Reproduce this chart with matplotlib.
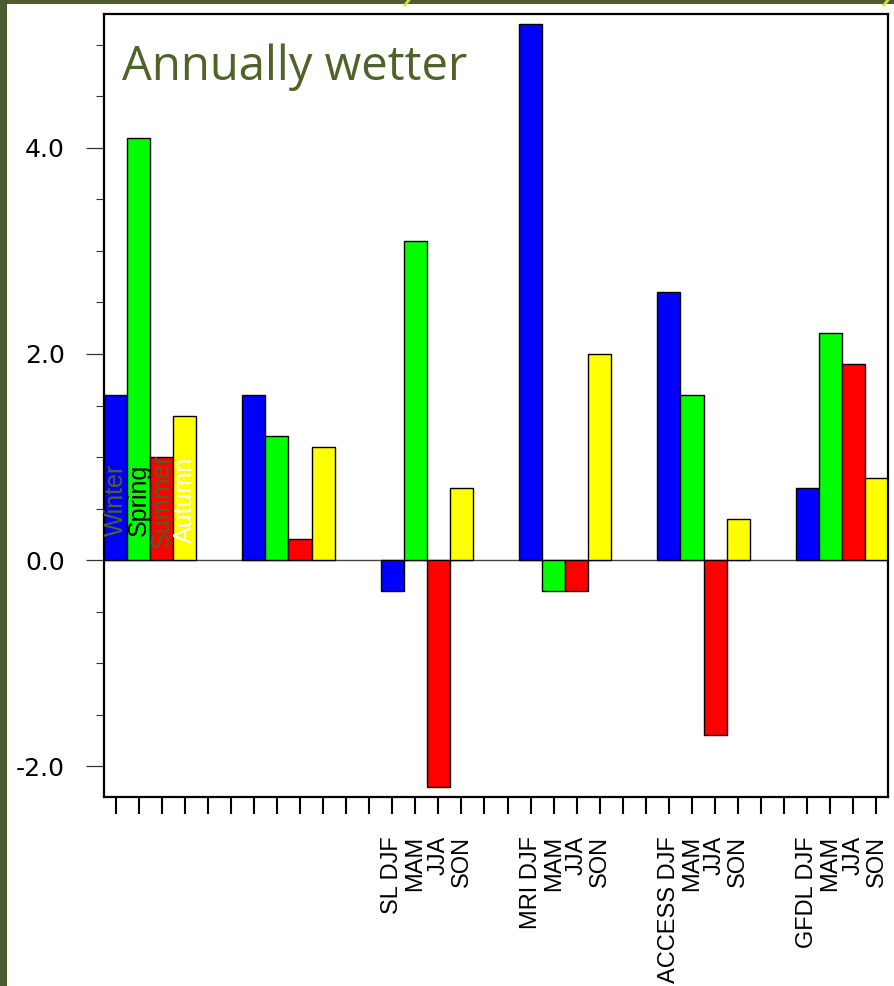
import matplotlib
matplotlib.use("Agg")
import matplotlib.pyplot as plt
from matplotlib.patches import Rectangle
from matplotlib.lines import Line2D
from matplotlib.ticker import MultipleLocator
import numpy as np

# Seasonal rainfall changes for each model group
models = ["", "", "SL", "MRI", "ACCESS", "GFDL"]
seasons = ["DJF", "MAM", "JJA", "SON"]
season_names = ["Winter", "Spring", "Summer", "Autumn"]
winter = [1.6, 1.6, -0.3, 5.2, 2.6, 0.7]
spring = [4.1, 1.2, 3.1, -0.3, 1.6, 2.2]
summer = [1.0, 0.2, -2.2, -0.3, -1.7, 1.9]
autumn = [1.4, 1.1, 0.7, 2.0, 0.4, 0.8]
y_ticks = [-2.0, 0.0, 2.0, 4.0]

colors = ["#0000FF", "#00FF00", "#FF0000", "#FFFF00"]
name_colors = ["#4F6228", "#000000", "#4F6228", "#FFFFFF"]
olive = "#4F6228"

W, H = 894, 986
fig = plt.figure(figsize=(W / 100, H / 100), dpi=100, facecolor="white")

# Olive frame strips along the left and top edges
fig.patches.append(Rectangle((0, 0), 7 / W, 1, transform=fig.transFigure,
                             facecolor="#4E5B31", edgecolor="none", zorder=0))
fig.patches.append(Rectangle((0, 1 - 4 / H), 1, 4 / H, transform=fig.transFigure,
                             facecolor="#4E5B31", edgecolor="none", zorder=0))
for x0 in (405, 884):
    fig.lines.append(Line2D([x0 / W, (x0 + 4) / W], [1 - 5 / H, 1.0],
                            transform=fig.transFigure, color="#C8E63C", lw=2))

ax = fig.add_axes([104 / W, 1 - 797 / H, 784 / W, 783 / H])

series = [winter, spring, summer, autumn]
n_groups = len(models)
step = 6
positions, labels = [], []
for g in range(n_groups):
    base = g * step
    for s in range(4):
        pos = base + s
        ax.bar(pos, series[s][g], width=1.0, color=colors[s],
               edgecolor="black", linewidth=1.0, zorder=2)
    for s in range(4):
        positions.append(base + s)
        if models[g]:
            labels.append(f"{models[g]} {seasons[s]}" if s == 0 else seasons[s])
        else:
            labels.append("")
    if g < n_groups - 1:
        positions += [base + 4, base + 5]
        labels += ["", ""]

# Season names written inside the first group of bars
for s in range(4):
    ax.text(s, 0.58, season_names[s], rotation=90, ha="center", va="center",
            color=name_colors[s], fontsize=18, family="Liberation Sans", zorder=3)

ax.axhline(0, color="#444444", lw=1.0, zorder=1)

ax.set_xlim(-0.5, 33.5)
ax.set_ylim(-2.3, 5.3)

ax.set_xticks(positions)
ax.set_xticklabels(labels, rotation=90, fontsize=17, family="Liberation Sans",
                   va="top", ha="center")
ax.tick_params(axis="x", direction="out", length=12, width=1.5, pad=16,
               color="black")

ax.set_yticks(y_ticks)
ax.set_yticklabels([f"{v:.1f}" for v in y_ticks], fontsize=18,
                   family="DejaVu Sans")
ax.yaxis.set_minor_locator(MultipleLocator(0.5))
ax.tick_params(axis="y", which="major", direction="out", length=13, width=0.9,
               pad=15, color="#333333")
ax.tick_params(axis="y", which="minor", direction="out", length=6, width=0.8,
               color="#333333")

for sp in ax.spines.values():
    sp.set_linewidth(1.6)
    sp.set_color("black")

ax.text(0.023, 0.9157, "Annually wetter", transform=ax.transAxes,
        ha="left", va="baseline", fontsize=34, family="Open Sans", color=olive)

fig.savefig("out.png", dpi=100, facecolor="white")
